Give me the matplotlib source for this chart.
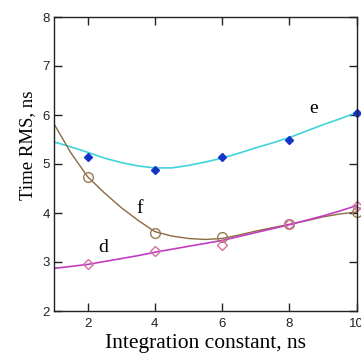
import numpy as np
from matplotlib import pyplot as plt

# fitted curves at half-step points
curve_x = [1, 1.5, 2, 2.5, 3, 3.5, 4, 4.5, 5, 5.5, 6, 6.5, 7, 7.5, 8, 8.5, 9, 9.5, 10]
curve_e = [5.45, 5.35, 5.24, 5.12, 5.03, 4.96, 4.92, 4.92, 4.97, 5.04, 5.12, 5.22, 5.33, 5.43, 5.54, 5.67, 5.80, 5.92, 6.05]
curve_f = [5.82, 5.23, 4.74, 4.41, 4.11, 3.85, 3.62, 3.53, 3.48, 3.46, 3.48, 3.55, 3.63, 3.70, 3.77, 3.84, 3.92, 3.98, 4.02]
curve_d = [2.87, 2.91, 2.95, 3.01, 3.07, 3.13, 3.20, 3.26, 3.32, 3.38, 3.44, 3.52, 3.60, 3.68, 3.76, 3.85, 3.94, 4.04, 4.15]

# measured points
meas_x = [2, 4, 6, 8, 10]
meas_e = [5.14, 4.88, 5.15, 5.50, 6.05]
meas_f = [4.74, 3.60, 3.52, 3.77, 4.02]
meas_d = [2.96, 3.23, 3.34, 3.78, 4.15]

serif = 'Liberation Serif'

fig = plt.figure(figsize=(3.61, 3.63), dpi=100)
ax = fig.add_axes([54 / 361, 52 / 363, 302.5 / 361, 294 / 363])

ax.plot(curve_x, curve_e, color='#3fd3dc', lw=1.2)
ax.plot(curve_x, curve_f, color='#8a6a40', lw=1.0)
ax.plot(curve_x, curve_d, color='#c23cc0', lw=1.2)

ax.plot(meas_x, meas_e, 'D', color='#1434c8', ms=4.5, ls='none', clip_on=False)
ax.plot(meas_x, meas_f, 'o', mfc='none', mec='#9a7a50', ms=7, mew=1.0, ls='none', clip_on=False)
ax.plot(meas_x, meas_d, 'D', mfc='none', mec='#d870a8', ms=5.5, mew=1.0, ls='none', clip_on=False)

ax.text(8.73, 6.14, 'e', fontsize=14, family=serif, ha='center', va='center')
ax.text(3.54, 4.10, 'f', fontsize=14, family=serif, ha='center', va='center')
ax.text(2.46, 3.30, 'd', fontsize=14, family=serif, ha='center', va='center')

ax.set_xlim(1, 10)
ax.set_ylim(2, 8)
ax.set_xticks([2, 4, 6, 8, 10])
ax.set_yticks([2, 3, 4, 5, 6, 7, 8])
ax.tick_params(direction='in', length=6, width=1, top=True, right=True,
               labelsize=9.5, pad=3, colors='#222222')
ax.tick_params(axis='x', pad=5)
for lab in ax.get_xticklabels() + ax.get_yticklabels():
    lab.set_family('Liberation Sans')
for sp in ax.spines.values():
    sp.set_color('#222222')
    sp.set_linewidth(1.0)

ax.set_xlabel('Integration constant, ns', fontsize=15.5, family=serif, labelpad=3)
ax.set_ylabel('Time RMS, ns', fontsize=13.5, family=serif)
ax.yaxis.set_label_coords(-0.058, 0.565)

fig.savefig('out.png', dpi=100)
